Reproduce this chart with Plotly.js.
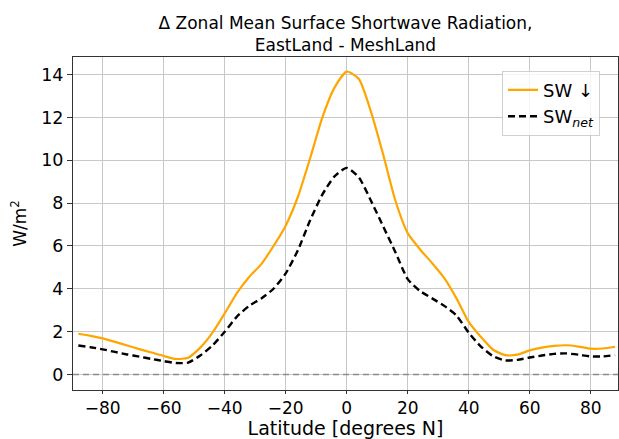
<!DOCTYPE html>
<html>
<head>
<meta charset="utf-8">
<script src="https://cdn.plot.ly/plotly-3.0.1.min.js"></script>
<style>html,body{margin:0;padding:0;background:#fff;}#chart{width:619px;height:439px;}</style>
</head>
<body>
<div id="chart"></div>
<script>
const latitude = [-88,-84,-80,-76,-72,-68,-64,-60,-56,-52,-48,-44,-40,-36,-32,-28,-24,-20,-16,-12,-8,-4,0,4,8,12,16,20,24,28,32,36,40,44,48,52,56,60,64,68,72,76,80,84,88];
const swDown = [1.90,1.80,1.68,1.52,1.35,1.18,1.02,0.86,0.72,0.78,1.25,1.95,2.85,3.80,4.55,5.15,6.00,6.95,8.30,10.10,12.00,13.40,14.15,13.80,12.25,10.25,8.10,6.60,5.85,5.20,4.50,3.55,2.45,1.75,1.15,0.90,0.92,1.12,1.25,1.33,1.36,1.30,1.20,1.21,1.29];
const swNet = [1.35,1.27,1.17,1.05,0.93,0.83,0.72,0.62,0.53,0.55,0.88,1.35,1.99,2.70,3.20,3.55,4.00,4.72,5.80,7.20,8.40,9.25,9.65,9.20,8.10,6.90,5.70,4.45,3.90,3.55,3.20,2.75,1.95,1.30,0.85,0.65,0.68,0.79,0.88,0.96,0.98,0.92,0.84,0.84,0.90];
const xTicks = [-80,-60,-40,-20,0,20,40,60,80];
const yTicks = [0,2,4,6,8,10,12,14];
const referenceValue = 0;

const font = 'DejaVu Sans, sans-serif';
const traces = [
  {x: latitude, y: swDown, type: 'scatter', mode: 'lines', name: 'SW ↓',
   line: {color: '#FFA500', width: 2.2, shape: 'spline', smoothing: 0.6}},
  {x: latitude, y: swNet, type: 'scatter', mode: 'lines', name: 'SW<sub><i>net</i></sub>',
   line: {color: '#000000', width: 2.4, dash: '7px,4px', shape: 'spline', smoothing: 0.6}}
];
const layout = {
  width: 619, height: 439,
  margin: {l: 73, r: 1, t: 57, b: 49},
  paper_bgcolor: '#fff', plot_bgcolor: '#fff',
  font: {family: font, size: 17, color: '#000'},
  title: {text: 'Δ Zonal Mean Surface Shortwave Radiation,<br>EastLand - MeshLand',
          font: {family: font, size: 17, color: '#000'}, x: 0.5, xref: 'paper', xanchor: 'center',
          yref: 'container', y: 0.935, yanchor: 'top'},
  xaxis: {range: [-89.74, 88.95], tickvals: xTicks, ticktext: xTicks.map(v => v < 0 ? '−' + Math.abs(v) : String(v)),
          showgrid: true, gridcolor: '#c8c8c8', gridwidth: 1, zeroline: false,
          showline: true, linecolor: '#333', linewidth: 1, mirror: true,
          ticks: 'outside', ticklen: 3, tickcolor: '#333', tickfont: {family: font, size: 17},
          title: {text: 'Latitude [degrees N]', font: {family: font, size: 19}, standoff: 7}},
  yaxis: {range: [-0.73, 14.83], tickvals: yTicks, ticktext: yTicks.map(String),
          showgrid: true, gridcolor: '#c8c8c8', gridwidth: 1, zeroline: false,
          showline: true, linecolor: '#333', linewidth: 1, mirror: true,
          ticks: 'outside', ticklen: 5, tickcolor: '#333', tickfont: {family: font, size: 17.5},
          title: {text: 'W/m<sup>2</sup>', font: {family: font, size: 17}, standoff: 10}},
  shapes: [{type: 'line', xref: 'paper', x0: 0, x1: 1, yref: 'y', y0: referenceValue, y1: referenceValue,
            line: {color: '#8c8c8c', width: 1.5, dash: '6px,4px'}, layer: 'above'}],
  legend: {x: 0.967, xanchor: 'right', y: 0.959, yanchor: 'top',
           bgcolor: 'rgba(255,255,255,0.8)', bordercolor: '#d0d0d0', borderwidth: 1,
           font: {family: font, size: 18}},
  showlegend: true
};
Plotly.newPlot('chart', traces, layout, {displayModeBar: false, staticPlot: true});
</script>
</body>
</html>
